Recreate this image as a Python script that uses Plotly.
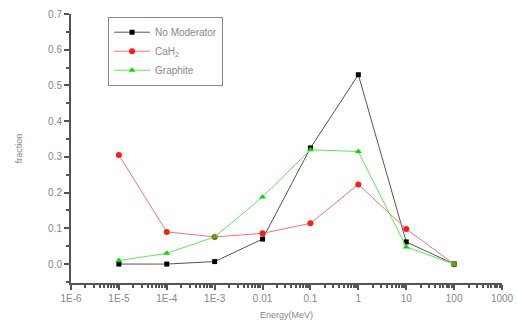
import plotly.graph_objects as go

# Energy bins (MeV) and fraction of neutrons in each bin
energy = [1e-5, 1e-4, 1e-3, 0.01, 0.1, 1, 10, 100]
no_moderator = [0.0, 0.0, 0.007, 0.070, 0.325, 0.530, 0.062, 0.0]
cah2 = [0.305, 0.090, 0.076, 0.086, 0.114, 0.223, 0.098, 0.0]
graphite = [0.010, 0.030, 0.076, 0.188, 0.320, 0.315, 0.048, 0.0]

x_tickvals = [1e-6, 1e-5, 1e-4, 1e-3, 0.01, 0.1, 1, 10, 100, 1000]
x_ticktext = ["1E-6", "1E-5", "1E-4", "1E-3", "0.01", "0.1", "1", "10", "100", "1000"]
y_tickvals = [0.0, 0.1, 0.2, 0.3, 0.4, 0.5, 0.6, 0.7]
y_ticktext = ["0.0", "0.1", "0.2", "0.3", "0.4", "0.5", "0.6", "0.7"]

# minor ticks at 2..9 within each decade
x_minor = [k * 10.0 ** e for e in range(-6, 3) for k in range(2, 10)]

fig = go.Figure()
fig.add_trace(go.Scatter(
    x=energy, y=no_moderator, name="No Moderator", mode="lines+markers",
    line=dict(color="#555555", width=1),
    marker=dict(symbol="square", size=5, color="black"),
))
fig.add_trace(go.Scatter(
    x=energy, y=cah2, name="CaH<sub>2</sub>", mode="lines+markers",
    line=dict(color="#ff7070", width=1),
    marker=dict(symbol="circle", size=6, color="#ff1a1a"),
))
fig.add_trace(go.Scatter(
    x=energy, y=graphite, name="Graphite", mode="lines+markers",
    line=dict(color="#55ee55", width=1),
    marker=dict(symbol="triangle-up", size=6, color="#00dd00"),
))

axis_font = dict(family="Liberation Sans, Arial, sans-serif", size=10, color="#888888")

fig.update_layout(
    width=518, height=331,
    margin=dict(l=71, r=16, t=14, b=48),
    paper_bgcolor="white", plot_bgcolor="white",
    font=axis_font,
    showlegend=True,
    legend=dict(
        x=0.086, y=0.99, xanchor="left", yanchor="top",
        bordercolor="#888888", borderwidth=1, bgcolor="white",
        font=dict(family="Liberation Sans, Arial, sans-serif", size=10, color="#888888"),
        tracegroupgap=0, itemwidth=36,
    ),
    xaxis=dict(
        type="log", range=[-6, 3], automargin=False,
        tickmode="array", tickvals=x_tickvals, ticktext=x_ticktext,
        ticks="outside", ticklen=5, tickwidth=1.5, tickcolor="#555555",
        showline=True, linecolor="#555555", linewidth=2,
        showgrid=False, zeroline=False,
        minor=dict(tickmode="array", tickvals=x_minor, ticks="outside",
                   ticklen=3, tickcolor="#555555", showgrid=False),
        title=dict(text="Energy(MeV)", font=dict(size=9, color="#888888"), standoff=9),
        tickfont=axis_font,
    ),
    yaxis=dict(
        range=[-0.053, 0.7], automargin=False,
        tickmode="array", tickvals=y_tickvals, ticktext=y_ticktext,
        ticks="outside", ticklen=5, tickwidth=1.5, tickcolor="#555555",
        showline=True, linecolor="#555555", linewidth=2,
        showgrid=False, zeroline=False,
        minor=dict(tickmode="array", tickvals=[-0.05, 0.05, 0.15, 0.25, 0.35, 0.45, 0.55, 0.65],
                   ticks="outside", ticklen=3, tickcolor="#555555", showgrid=False),
        title=dict(text="fraction", font=dict(size=9, color="#888888"), standoff=24),
        tickfont=axis_font,
    ),
)

fig.write_html("out.html")
